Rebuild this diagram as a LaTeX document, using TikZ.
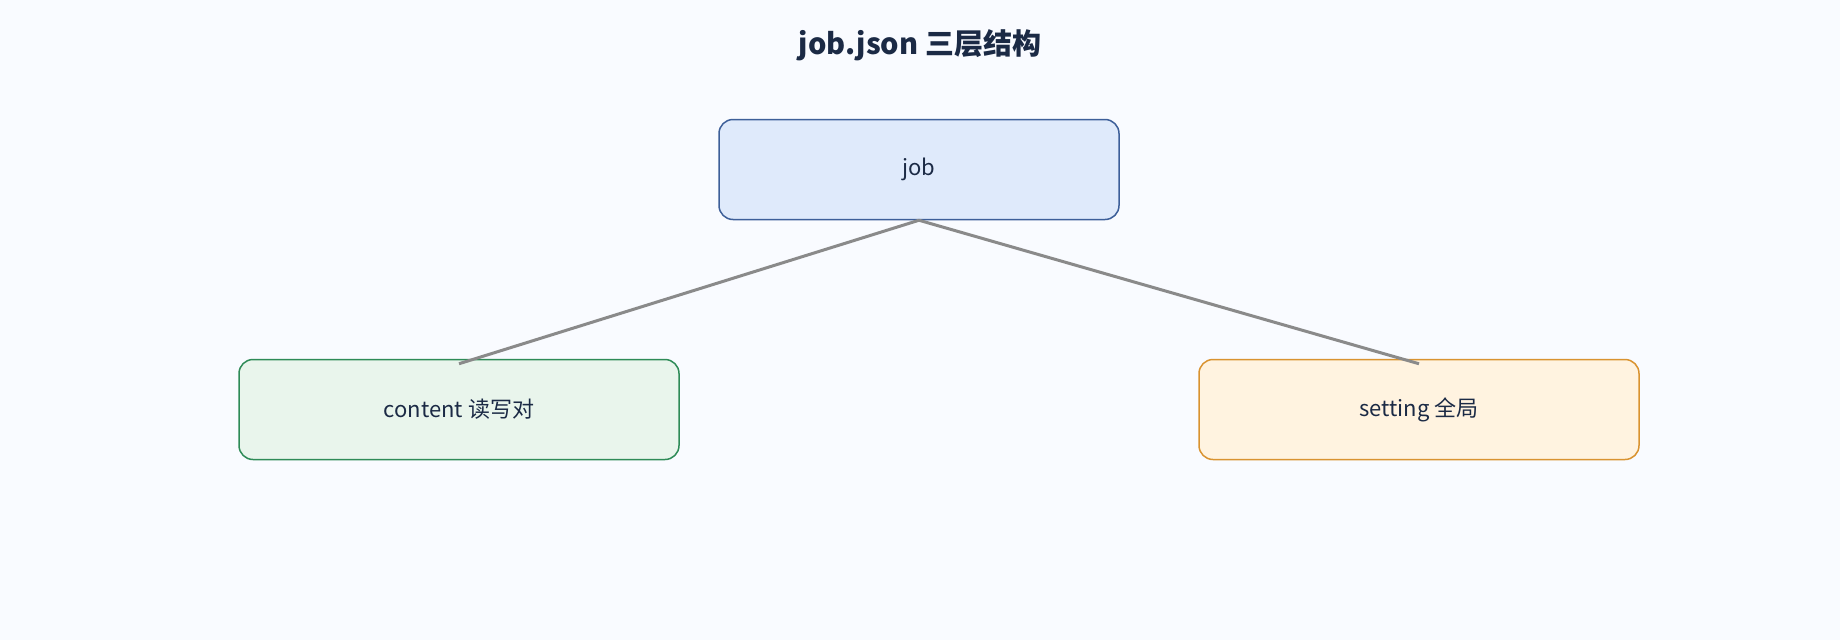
\documentclass[tikz,border=0pt]{standalone}
\usepackage{fontspec}
\setmainfont{Noto Sans CJK SC}
\usetikzlibrary{positioning}
\definecolor{bgcol}{HTML}{F9FBFF}
\definecolor{inkcol}{HTML}{1B2A45}
\definecolor{jobfill}{HTML}{DFEAFB}
\definecolor{jobline}{HTML}{3D5F99}
\definecolor{contfill}{HTML}{E9F5EC}
\definecolor{contline}{HTML}{2E8B57}
\definecolor{setfill}{HTML}{FFF3E0}
\definecolor{setline}{HTML}{D99330}
\definecolor{edgecol}{HTML}{8A8A8A}
\begin{document}
\begin{tikzpicture}[x=1pt,y=-1pt,
  box/.style={rounded corners=14pt, line width=1.5pt, minimum height=100pt,
    text=inkcol, font=\fontsize{22}{26}\selectfont},
  edge/.style={draw=edgecol, line width=3pt}]
\fill[bgcol] (0,0) rectangle (1840,640);
\useasboundingbox (0,0) rectangle (1840,640);
\node[font=\bfseries\fontsize{29}{34}\selectfont, text=inkcol] (title) at (920,45) {job.json 三层结构};
\node[box, fill=jobfill, draw=jobline, minimum width=400pt] (job) at (919,169.5) {job};
\node[box, fill=contfill, draw=contline, minimum width=440pt] (content) at (459,409.5) {content 读写对};
\node[box, fill=setfill, draw=setline, minimum width=440pt] (setting) at (1419,409.5) {setting 全局};
\coordinate (ca) at ([yshift=-5pt]content.north);
\coordinate (sa) at ([yshift=-5pt]setting.north);
\draw[edge] (job.south) -- (ca);
\draw[edge] (job.south) -- (sa);
\end{tikzpicture}
\end{document}
